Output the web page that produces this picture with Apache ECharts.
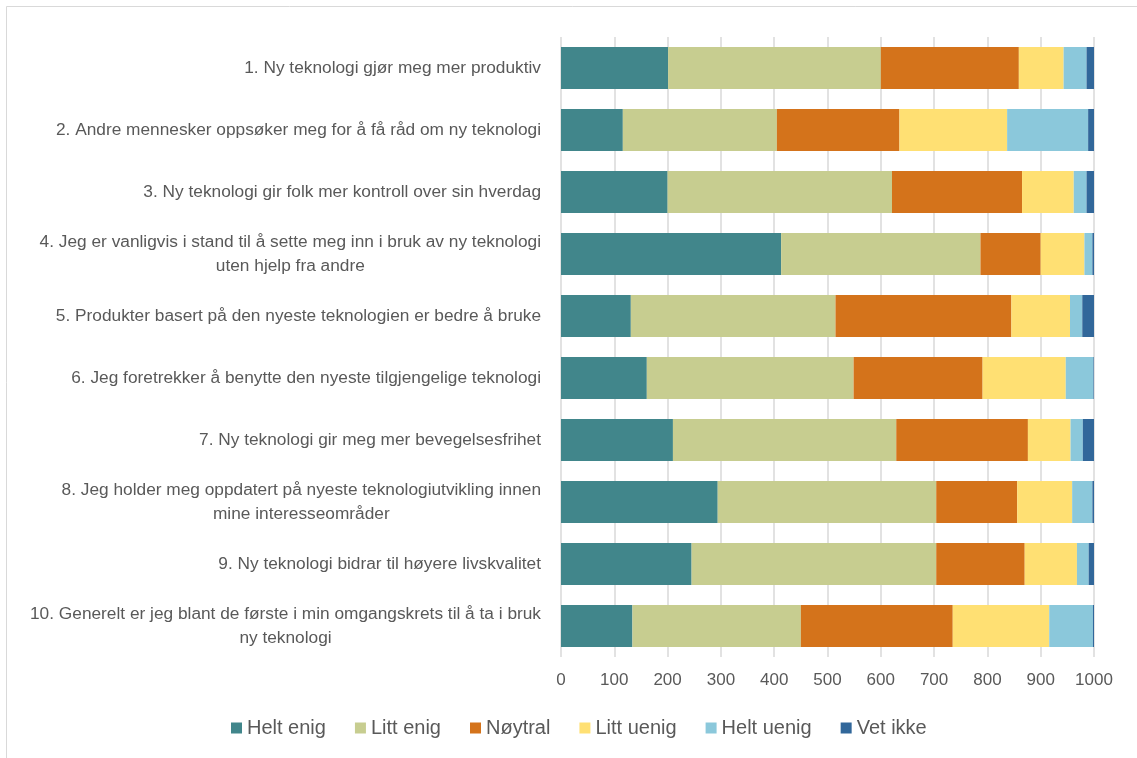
<!DOCTYPE html>
<html>
<head>
<meta charset="utf-8">
<script src="https://cdn.jsdelivr.net/npm/echarts@6/dist/echarts.min.js"></script>
<style>
html,body{margin:0;padding:0;background:#fff;}
#chart{width:1137px;height:758px;}
</style>
</head>
<body>
<div id="chart"></div>
<script>
const categories = [
  "1. Ny teknologi gjør meg mer produktiv",
  "2. Andre mennesker oppsøker meg for å få råd om ny teknologi",
  "3. Ny teknologi gir folk mer kontroll over sin hverdag",
  "4. Jeg er vanligvis i stand til å sette meg inn i bruk av ny teknologi\nuten hjelp fra andre",
  "5. Produkter basert på den nyeste teknologien er bedre å bruke",
  "6. Jeg foretrekker å benytte den nyeste tilgjengelige teknologi",
  "7. Ny teknologi gir meg mer bevegelsesfrihet",
  "8. Jeg holder meg oppdatert på nyeste teknologiutvikling innen\nmine interesseområder",
  "9. Ny teknologi bidrar til høyere livskvalitet",
  "10. Generelt er jeg blant de første i min omgangskrets til å ta i bruk\nny teknologi"
];
const seriesNames = ["Helt enig", "Litt enig", "Nøytral", "Litt uenig", "Helt uenig", "Vet ikke"];
const heltEnig  = [201, 116, 200, 413, 131, 161, 210, 294, 245, 134];
const littEnig  = [399, 289, 421, 374, 384, 388, 419, 410, 459, 316];
const noytral   = [259, 230, 244, 113, 330, 242, 247, 152, 166, 285];
const littUenig = [ 84, 202,  97,  82, 110, 156,  80, 103,  98, 181];
const heltUenig = [ 43, 152,  24,  15,  23,  52,  23,  38,  22,  82];
const vetIkke   = [ 14,  11,  14,   3,  22,   1,  21,   3,  10,   2];
const xTicks = [0, 100, 200, 300, 400, 500, 600, 700, 800, 900, 1000];
const colors = ["#41868B", "#C7CD90", "#D4731B", "#FFE073", "#8BC8DB", "#31679A"];

const values = [heltEnig, littEnig, noytral, littUenig, heltUenig, vetIkke];
const font = "'Liberation Sans', Arial, sans-serif";

const chart = echarts.init(document.getElementById('chart'), null, {renderer: 'canvas'});
chart.setOption({
  backgroundColor: '#fff',
  animation: false,
  color: colors,
  graphic: [{
    type: 'rect', silent: true,
    shape: {x: 6.5, y: 6.5, width: 1200, height: 800},
    style: {fill: 'none', stroke: '#D9D9D9', lineWidth: 1}
  }],
  grid: {left: 561, right: 43, top: 37, bottom: 101, containLabel: false, outerBoundsMode: 'none'},
  legend: {
    bottom: 15, left: 226,
    itemWidth: 11, itemHeight: 11, itemGap: 29, icon: 'rect',
    textStyle: {color: '#595959', fontSize: 20, fontFamily: font},
    data: seriesNames
  },
  xAxis: {
    type: 'value', min: 0, max: 1000, interval: 100,
    axisLine: {show: false}, axisTick: {show: false},
    splitLine: {show: true, lineStyle: {color: '#D9D9D9', width: 1.5}},
    axisLabel: {color: '#595959', fontSize: 17, fontFamily: font, margin: 15,
      formatter: v => xTicks.includes(v) ? String(v) : ''}
  },
  yAxis: {
    type: 'category', inverse: true, data: categories,
    axisLine: {show: false}, axisTick: {show: false},
    axisLabel: {
      color: '#595959', fontSize: 17.3, fontFamily: font, margin: 20, lineHeight: 24,
      formatter: function (v) {
        const parts = v.split('\n');
        if (parts.length === 1) return v;
        return parts[0] + '\n{c|' + parts[1] + '}';
      },
      rich: {c: {width: 472, align: 'center', color: '#595959', fontSize: 17.3, fontFamily: font, lineHeight: 24}}
    }
  },
  series: seriesNames.map((name, i) => ({
    name: name, type: 'bar', stack: 'total', barWidth: 42,
    data: values[i],
    itemStyle: {color: colors[i]}
  }))
});
</script>
</body>
</html>
